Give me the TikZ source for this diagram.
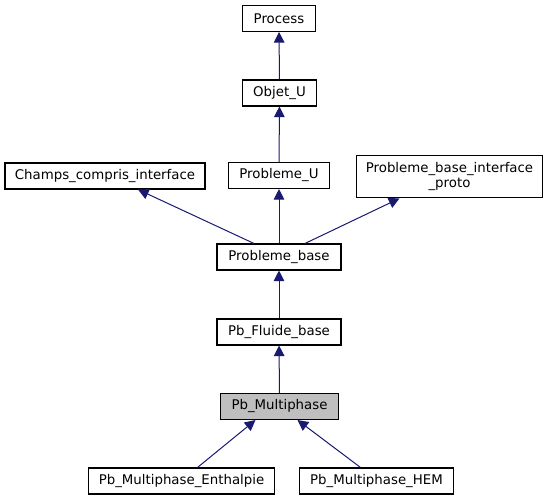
\documentclass[tikz,border=0pt]{standalone}
\usepackage{fontspec}
\setmainfont{DejaVu Sans}
\usepackage{tikz}
\usetikzlibrary{arrows.meta}
\usetikzlibrary{calc}
\definecolor{edgeblue}{RGB}{25,25,112}
\definecolor{greyfill}{RGB}{191,191,191}

\begin{document}
\begin{tikzpicture}[x=0.75pt, y=-0.75pt, cls/.style={draw, rectangle, line width=0.8pt, fill=white, font=\fontsize{10}{11.5}\selectfont, minimum height=19.5pt, inner sep=2pt, align=center}, inherit/.style={draw=edgeblue, line width=0.75pt, {Triangle[length=8pt, width=8pt]}-}]
		\useasboundingbox (0,0) rectangle (546,500);
		\node[cls, minimum width=55pt](process) at (279, 18.5) {Process};
		\node[cls, minimum width=56pt](objet) at (279.5, 93) {Objet\_U};
		\node[cls, minimum width=150pt](champs) at (105, 176) {Champs\_compris\_interface};
		\node[cls, minimum width=75.5pt](probu) at (279, 175.5) {Probleme\_U};
		\node[cls, minimum width=140pt, minimum height=32pt](proto) at (449.5, 176.5) {Probleme\_base\_interface\\\_proto};
		\node[cls, minimum width=93pt](pbase) at (279, 257) {Probleme\_base};
		\node[cls, minimum width=93pt](fluide) at (279, 332) {Pb\_Fluide\_base};
		\node[cls, minimum width=88pt, fill=greyfill](multi) at (279.5, 406.5) {Pb\_Multiphase};
		\node[cls, minimum width=139pt](enth) at (181.5, 481) {Pb\_Multiphase\_Enthalpie};
		\node[cls, minimum width=116pt](hem) at (376.5, 481) {Pb\_Multiphase\_HEM};
		
		\draw[inherit] (process) -- (objet);
		\draw[inherit] (objet) -- (probu);
		\draw[inherit] (probu) -- (pbase);
		\draw[inherit] ($(champs.south)+(33,0)$) -- ($(pbase.north)+(-25,0)$);
		\draw[inherit] ($(proto.south)+(-50,0)$) -- ($(pbase.north)+(26,0)$);
		\draw[inherit] (pbase) -- (fluide);
		\draw[inherit] (fluide) -- (multi);
		\draw[inherit] ($(multi.south)+(-24,0)$) -- ($(enth.north)+(16,0)$);
		\draw[inherit] ($(multi.south)+(18,0)$) -- ($(hem.north)+(-16,0)$);
\end{tikzpicture}
\end{document}
